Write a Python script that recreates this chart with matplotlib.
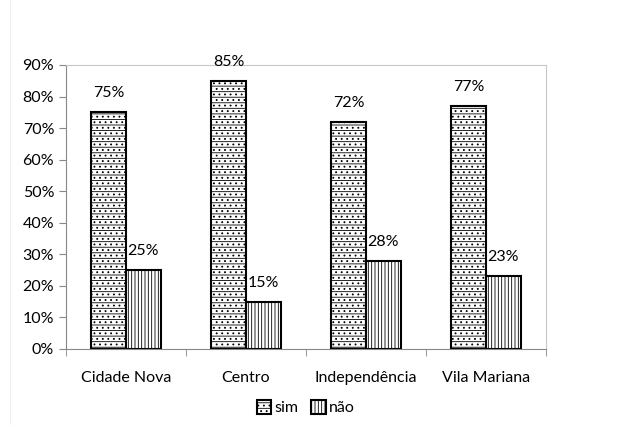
import matplotlib.pyplot as plt
import numpy as np
from matplotlib.lines import Line2D
from matplotlib.ticker import PercentFormatter

# data
bairros = ["Cidade Nova", "Centro", "Independência", "Vila Mariana"]
sim = [75, 85, 72, 77]
nao = [25, 15, 28, 23]

plt.rcParams["font.family"] = ["Lato", "DejaVu Sans"]
plt.rcParams["hatch.color"] = "#777777"
plt.rcParams["hatch.linewidth"] = 0.6

fig = plt.figure(figsize=(6.21, 4.25), dpi=100)
ax = fig.add_axes([66 / 621, 1 - 349 / 425, (546 - 66) / 621, (349 - 65) / 425])

x = np.arange(len(bairros))
w = 0.29
b1 = ax.bar(x - w / 2, sim, w, facecolor="white", edgecolor="black",
            linewidth=1.5, hatch="---...", label="sim")
b2 = ax.bar(x + w / 2, nao, w, facecolor="white", edgecolor="black",
            linewidth=1.5, hatch="|||||", label="não")

for bars, vals in [(b1, sim), (b2, nao)]:
    for bar, v in zip(bars, vals):
        ax.text(bar.get_x() + bar.get_width() / 2, v + 6, f"{v}%",
                ha="center", va="center", fontsize=11.5)

ax.set_xlim(-0.5, len(bairros) - 0.5)
ax.set_ylim(0, 90)
ax.set_yticks(range(0, 91, 10))
ax.yaxis.set_major_formatter(PercentFormatter(decimals=0))
ax.set_xticks(x)
ax.set_xticklabels(bairros)
ax.set_xticks(np.arange(-0.5, len(bairros), 1), minor=True)
ax.tick_params(axis="x", which="major", length=0, pad=16, labelsize=11.5)
ax.tick_params(axis="x", which="minor", length=5, color="#888888")
ax.tick_params(axis="y", length=5, color="#888888", labelsize=11.5)
for s in ax.spines.values():
    s.set_color("#c8c8c8")
ax.spines["left"].set_color("#888888")
ax.spines["bottom"].set_color("#888888")

ax.legend(loc="upper center", bbox_to_anchor=(0.5, -0.13), ncol=2,
          frameon=False, handlelength=0.9, handleheight=0.9,
          handletextpad=0.2, columnspacing=0.8, fontsize=11.5)

fig.add_artist(Line2D([10 / 621, 10 / 621], [0, 1], color="#eeeeee", lw=0.8))

fig.savefig("out.png", dpi=100)
